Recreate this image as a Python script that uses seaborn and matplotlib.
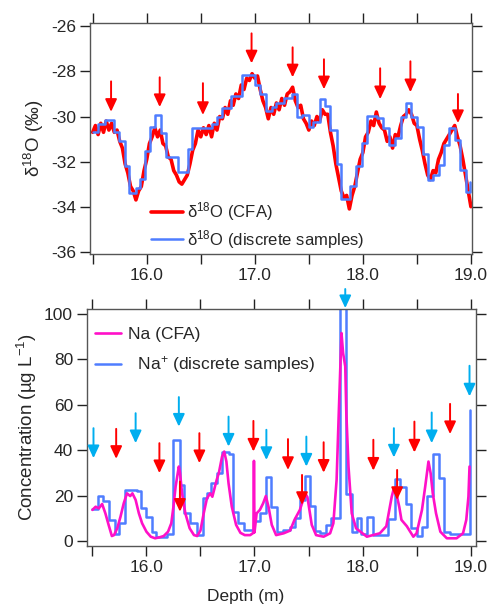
import numpy as np
import pandas as pd
import matplotlib
matplotlib.use('Agg')
import matplotlib.pyplot as plt
import seaborn as sns

# --- d18O, continuous flow analysis (CFA) ---
d18o_cfa_depth = [
    15.500, 15.525, 15.550, 15.575, 15.600, 15.625, 15.650, 15.675, 15.700, 15.725,
    15.750, 15.775, 15.800, 15.825, 15.850, 15.875, 15.900, 15.925, 15.950, 15.975,
    16.000, 16.025, 16.050, 16.075, 16.100, 16.125, 16.150, 16.175, 16.200, 16.225,
    16.250, 16.275, 16.300, 16.325, 16.350, 16.375, 16.400, 16.425, 16.450, 16.475,
    16.500, 16.525, 16.550, 16.575, 16.600, 16.625, 16.650, 16.675, 16.700, 16.725,
    16.750, 16.775, 16.800, 16.825, 16.850, 16.875, 16.900, 16.925, 16.950, 16.975,
    17.000, 17.025, 17.050, 17.075, 17.100, 17.125, 17.150, 17.175, 17.200, 17.225,
    17.250, 17.275, 17.300, 17.325, 17.350, 17.375, 17.400, 17.425, 17.450, 17.475,
    17.500, 17.525, 17.550, 17.575, 17.600, 17.625, 17.650, 17.675, 17.700, 17.725,
    17.750, 17.775, 17.800, 17.825, 17.850, 17.875, 17.900, 17.925, 17.950, 17.975,
    18.000, 18.025, 18.050, 18.075, 18.100, 18.125, 18.150, 18.175, 18.200, 18.225,
    18.250, 18.275, 18.300, 18.325, 18.350, 18.375, 18.400, 18.425, 18.450, 18.475,
    18.500, 18.525, 18.550, 18.575, 18.600, 18.625, 18.650, 18.675, 18.700, 18.725,
    18.750, 18.775, 18.800, 18.825, 18.850, 18.875, 18.900, 18.925, 18.950, 18.975,
    19.000,
]
d18o_cfa = [
    -30.7, -30.4, -30.8, -30.3, -30.7, -30.2, -30.6, -30.3, -30.7, -30.6,
    -31.1, -31.4, -32.1, -32.5, -33.1, -33.3, -33.7, -33.3, -33.1, -32.4,
    -31.9, -31.2, -30.9, -30.5, -30.9, -30.6, -31.2, -31.3, -31.8, -31.9,
    -32.4, -32.6, -32.9, -33.0, -32.8, -32.6, -32.1, -31.5, -31.2, -30.6,
    -30.9, -30.5, -30.8, -30.4, -30.9, -30.3, -30.6, -30.0, -30.1, -29.6,
    -29.9, -29.3, -29.5, -29.0, -29.2, -28.6, -28.8, -28.3, -28.4, -28.1,
    -28.3, -28.2, -28.8, -29.3, -29.6, -30.1, -29.6, -29.9, -29.4, -29.7,
    -29.2, -29.5, -29.0, -28.9, -28.7, -29.3, -29.6, -29.5, -30.1, -30.3,
    -30.6, -30.2, -30.4, -30.0, -30.2, -29.7, -29.9, -29.9, -30.7, -31.3,
    -32.1, -32.7, -33.3, -33.6, -33.5, -34.1, -33.5, -33.1, -32.5, -31.9,
    -31.6, -30.9, -30.7, -30.2, -30.4, -29.8, -30.3, -30.5, -30.6, -31.1,
    -30.9, -31.4, -30.8, -30.9, -30.4, -30.0, -29.9, -29.7, -29.9, -30.3,
    -30.4, -31.0, -31.5, -32.1, -32.6, -32.8, -32.4, -32.5, -31.9, -31.6,
    -31.2, -31.0, -30.8, -30.6, -30.4, -30.9, -31.3, -31.9, -32.6, -33.3,
    -34.0,
]

# --- d18O, discrete samples (left edge of each sample, value) ---
d18o_disc_depth = [
    15.50, 15.55, 15.61, 15.70, 15.74, 15.80, 15.84, 15.90, 15.94, 15.98,
    16.03, 16.08, 16.13, 16.18, 16.29, 16.38, 16.42, 16.60, 16.65, 16.70,
    16.78, 16.88, 17.00, 17.05, 17.10, 17.16, 17.20, 17.27, 17.34, 17.39,
    17.44, 17.50, 17.54, 17.60, 17.65, 17.70, 17.76, 17.80, 17.88, 17.94,
    17.99, 18.04, 18.13, 18.19, 18.24, 18.30, 18.35, 18.40, 18.45, 18.50,
    18.56, 18.60, 18.65, 18.70, 18.75, 18.80, 18.85, 18.90, 18.95, 18.99,
]
d18o_disc = [
    -30.70, -30.31, -30.15, -30.68, -31.07, -32.19, -33.40, -33.18, -32.77, -31.52,
    -30.45, -29.94, -30.72, -31.78, -32.45, -31.46, -30.50, -30.35, -30.00, -29.64,
    -29.08, -28.17, -28.60, -28.98, -29.76, -29.57, -29.42, -29.20, -29.02, -30.01,
    -29.94, -30.48, -30.23, -29.23, -29.54, -30.60, -32.12, -33.67, -33.08, -32.19,
    -31.16, -29.98, -30.08, -30.53, -31.27, -30.97, -30.01, -29.38, -30.04, -30.45,
    -31.68, -32.81, -32.60, -32.15, -31.27, -30.53, -31.04, -32.37, -33.37, -32.90,
]

# --- Na, CFA ---
na_cfa_depth = [
    15.50, 15.53, 15.56, 15.59, 15.62, 15.65, 15.68, 15.70, 15.73, 15.76,
    15.79, 15.82, 15.85, 15.87, 15.90, 15.93, 15.96, 16.00, 16.04, 16.08,
    16.12, 16.16, 16.20, 16.23, 16.25, 16.27, 16.29, 16.30, 16.31, 16.33,
    16.36, 16.40, 16.44, 16.47, 16.50, 16.53, 16.56, 16.59, 16.61, 16.63,
    16.65, 16.67, 16.70, 16.72, 16.74, 16.76, 16.79, 16.83, 16.87, 16.91,
    16.96, 16.99, 16.995, 17.00, 17.02, 17.05, 17.08, 17.105, 17.13, 17.16,
    17.20, 17.27, 17.33, 17.37, 17.42, 17.47, 17.49, 17.53, 17.57, 17.64,
    17.70, 17.73, 17.76, 17.78, 17.805, 17.82, 17.84, 17.85, 17.87, 17.90,
    17.94, 18.04, 18.16, 18.22, 18.27, 18.29, 18.31, 18.34, 18.36, 18.41,
    18.47, 18.50, 18.55, 18.58, 18.61, 18.63, 18.65, 18.68, 18.72, 18.78,
    18.87, 18.93, 18.96, 18.98, 18.99,
]
na_cfa = [
    13.7, 15.1, 14.4, 16.3, 12.2, 7.1, 2.2, 2.6, 5.6, 10.7,
    16.6, 21.0, 19.8, 21.0, 18.1, 12.2, 7.8, 4.1, 1.9, 1.2,
    1.6, 2.2, 4.1, 7.8, 15.1, 24.0, 29.9, 32.8, 30.3, 21.0,
    12.2, 5.6, 2.6, 2.2, 4.6, 12.2, 18.8, 21.0, 19.5, 23.2,
    26.9, 29.9, 37.2, 39.4, 35.0, 25.4, 15.1, 7.1, 3.6, 2.6,
    2.6, 3.6, 35.3, 3.8, 12.2, 13.7, 16.6, 19.8, 15.0, 7.1,
    2.6, 3.4, 4.6, 9.3, 13.7, 21.0, 19.3, 7.1, 2.6, 1.9,
    3.4, 7.8, 26.9, 56.3, 91.6, 82.8, 76.9, 56.3, 32.8, 12.2,
    5.6, 1.9, 3.4, 6.5, 19.5, 23.2, 21.5, 15.0, 9.3, 6.5,
    1.9, 3.4, 13.7, 24.0, 35.0, 29.9, 21.0, 12.2, 4.1, 1.2,
    1.2, 3.4, 9.3, 19.5, 32.8,
]

# --- Na+, discrete samples (left edge of each sample, value) ---
na_disc_depth = [
    15.50, 15.55, 15.60, 15.65, 15.71, 15.75, 15.80, 15.91, 15.95, 16.00,
    16.05, 16.09, 16.19, 16.25, 16.31, 16.35, 16.40, 16.47, 16.52, 16.56,
    16.60, 16.65, 16.70, 16.76, 16.80, 16.85, 16.90, 17.00, 17.055, 17.105,
    17.157, 17.204, 17.265, 17.327, 17.373, 17.42, 17.466, 17.512, 17.558, 17.605,
    17.66, 17.71, 17.79, 17.85, 17.90, 17.945, 17.99, 18.043, 18.098, 18.19,
    18.237, 18.299, 18.351, 18.398, 18.444, 18.50, 18.546, 18.598, 18.648, 18.706,
    18.753, 18.808, 18.90, 18.993,
]
na_disc = [
    14.2, 19.8, 17.6, 9.3, 3.0, 7.9, 22.5, 22.0, 14.7, 10.7,
    4.1, 1.9, 3.0, 44.5, 24.7, 12.3, 7.9, 2.6, 18.8, 21.0,
    25.4, 30.0, 39.4, 38.4, 12.9, 8.1, 4.9, 9.0, 12.2, 28.1,
    15.1, 4.1, 4.8, 6.0, 10.0, 18.1, 28.7, 15.4, 4.5, 3.4,
    7.1, 10.2, 130.0, 20.5, 4.0, 10.2, 3.0, 10.4, 2.6, 2.8,
    9.6, 27.3, 23.7, 16.3, 5.6, 2.2, 6.0, 19.8, 38.4, 27.9,
    3.8, 3.0, 3.2, 57.8,
]

# --- arrows (depth, tail value, tip value) ---
top_arrow_depth = [15.67, 16.12, 16.52, 16.97, 17.35, 17.64, 18.16, 18.44, 18.88]
top_arrow_tail = [-28.44, -28.26, -28.52, -26.31, -26.93, -27.46, -27.86, -27.55, -29.00]
top_arrow_tip = [-29.79, -29.58, -29.93, -27.64, -28.26, -28.79, -29.23, -28.92, -30.29]

cyan_arrow_depth = [15.51, 15.90, 16.30, 16.76, 17.11, 17.48, 17.84, 18.29, 18.64, 18.99]
cyan_arrow_tail = [49.7, 56.3, 63.4, 54.8, 49.0, 46.0, 111.0, 49.7, 56.6, 77.2]
cyan_arrow_tip = [36.5, 43.1, 50.4, 41.6, 35.7, 32.8, 102.6, 36.8, 43.1, 63.7]

red_arrow_depth = [15.72, 16.12, 16.31, 16.49, 16.99, 17.31, 17.44, 17.64, 18.10, 18.32, 18.48, 18.81]
red_arrow_tail = [49.4, 43.1, 26.2, 47.5, 52.9, 44.9, 29.1, 43.5, 44.6, 31.3, 52.6, 60.4]
red_arrow_tip = [36.2, 29.9, 12.9, 34.3, 39.4, 31.3, 15.9, 30.1, 31.0, 18.1, 39.0, 47.1]

# axis ticks
depth_ticks = [15.5, 16.0, 16.5, 17.0, 17.5, 18.0, 18.5, 19.0]
depth_tick_labels = ['', '16.0', '', '17.0', '', '18.0', '', '19.0']
d18o_ticks = [-36, -34, -32, -30, -28, -26]
d18o_tick_labels = ['-36', '-34', '-32', '-30', '-28', '-26']
na_ticks = [0, 20, 40, 60, 80, 100]

RED = '#FF0000'
BLUE = '#4F7DFF'
MAGENTA = '#FF10C8'
CYAN = '#00AEEF'

sns.set_style('ticks')
plt.rcParams['font.family'] = ['Liberation Sans', 'DejaVu Sans']
plt.rcParams['mathtext.fontset'] = 'custom'
plt.rcParams['mathtext.rm'] = 'Liberation Sans'
plt.rcParams['mathtext.it'] = 'Liberation Sans:italic'
plt.rcParams['font.size'] = 12

fig = plt.figure(figsize=(4.9, 6.05), dpi=100)
ax1 = fig.add_axes([90 / 490, 1 - 254 / 605, 382 / 490, 231 / 605])
ax2 = fig.add_axes([87 / 490, 1 - 546 / 605, 389 / 490, 237 / 605])


def arrows(ax, depth, tail, tip, color):
    for d, t0, t1 in zip(depth, tail, tip):
        ax.annotate('', xy=(d, t1), xytext=(d, t0), annotation_clip=False,
                    arrowprops=dict(arrowstyle='-|>,head_length=0.6,head_width=0.28',
                                    color=color, lw=1.4, mutation_scale=12.5,
                                    shrinkA=0, shrinkB=0))


def style(ax):
    for s in ax.spines.values():
        s.set_visible(True)
        s.set_color('#555555')
        s.set_linewidth(1.0)
    ax.tick_params(direction='out', length=7, width=1.0, top=True, right=True,
                   labelsize=12.5, color='#222222', pad=3)
    ax.set_xticks(depth_ticks)
    ax.set_xticklabels(depth_tick_labels)


# top panel
df_cfa = pd.DataFrame({'depth': d18o_cfa_depth, 'val': d18o_cfa})
df_disc = pd.DataFrame({'depth': d18o_disc_depth, 'val': d18o_disc})
sns.lineplot(data=df_cfa, x='depth', y='val', ax=ax1, color=RED, lw=2.6,
             estimator=None, sort=False, label=r'δ$^{18}$O (CFA)')
sns.lineplot(data=df_disc, x='depth', y='val', ax=ax1, color=BLUE, lw=1.8,
             estimator=None, sort=False, drawstyle='steps-post',
             label=r'δ$^{18}$O (discrete samples)')
arrows(ax1, top_arrow_depth, top_arrow_tail, top_arrow_tip, RED)
ax1.set_xlim(15.475, 19.01)
ax1.set_ylim(-36.1, -25.85)
ax1.set_yticks(d18o_ticks)
ax1.set_yticklabels(d18o_tick_labels)
style(ax1)
ax1.set_xlabel('')
ax1.set_ylabel(r'δ$^{18}$O (‰)', fontsize=13.5, labelpad=4)
ax1.legend(loc='lower left', bbox_to_anchor=(0.12, -0.05), frameon=False,
           handlelength=1.9, handletextpad=0.25, labelspacing=0.25, fontsize=12)

# bottom panel
df_na = pd.DataFrame({'depth': na_cfa_depth, 'val': na_cfa})
df_nad = pd.DataFrame({'depth': na_disc_depth, 'val': na_disc})
sns.lineplot(data=df_nad, x='depth', y='val', ax=ax2, color=BLUE, lw=1.8,
             estimator=None, sort=False, drawstyle='steps-post',
             label=r'  Na$^{+}$ (discrete samples)')
sns.lineplot(data=df_na, x='depth', y='val', ax=ax2, color=MAGENTA, lw=1.9,
             estimator=None, sort=False, label='Na (CFA)')
arrows(ax2, cyan_arrow_depth, cyan_arrow_tail, cyan_arrow_tip, CYAN)
arrows(ax2, red_arrow_depth, red_arrow_tail, red_arrow_tip, RED)
ax2.set_xlim(15.45, 19.05)
ax2.set_ylim(-2.2, 102.2)
ax2.set_yticks(na_ticks)
style(ax2)
ax2.set_xlabel('Depth (m)', fontsize=12.5)
ax2.xaxis.set_label_coords((246 - 87) / 389, -0.18)
ax2.set_ylabel(r'Concentration (µg L$^{-1}$)', fontsize=13.5, labelpad=4)
h, l = ax2.get_legend_handles_labels()
ax2.legend(h[::-1], l[::-1], loc='upper left', bbox_to_anchor=(-0.02, 0.99),
           frameon=False, handlelength=1.5, handletextpad=0.4, labelspacing=0.7,
           fontsize=12.5)

fig.savefig('out.png', dpi=100)
